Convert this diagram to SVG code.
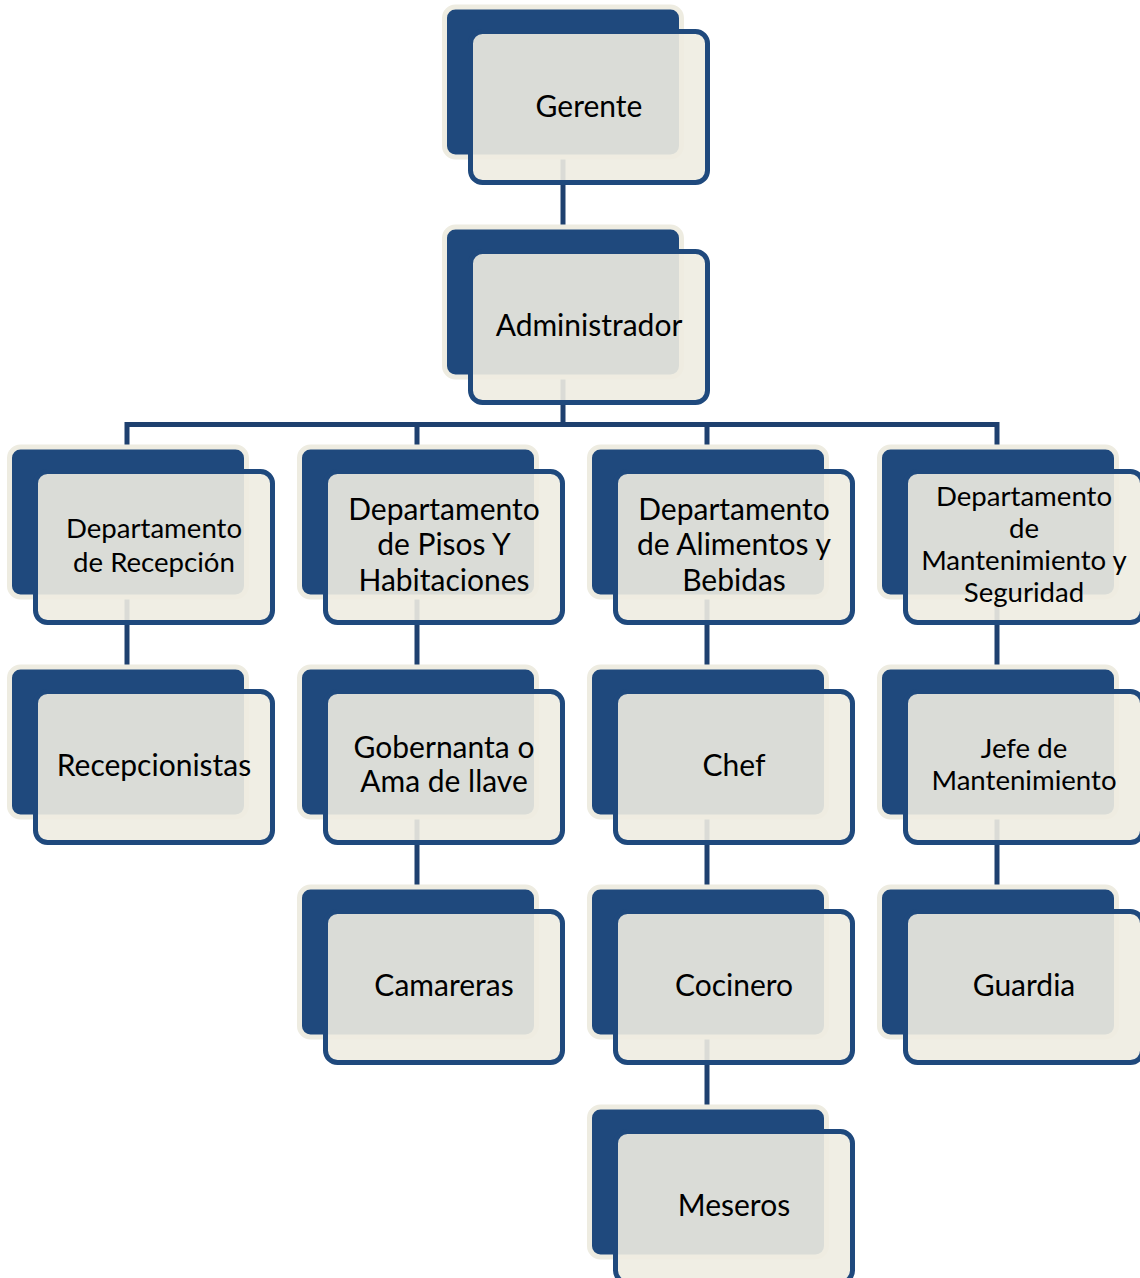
<svg xmlns="http://www.w3.org/2000/svg" width="1140" height="1278" viewBox="0 0 1140 1278">
<defs>
<style>
.back{fill:#1f497d;stroke:#eeece1;stroke-width:5}
.front{fill:#eeece1;fill-opacity:0.9;stroke:#1f497d;stroke-width:5}
.conn{stroke:#1e406f;stroke-width:5;fill:none}
.t{font-family:Lato,"Liberation Sans",sans-serif;fill:#000;text-anchor:middle}
.b{font-size:30px}
.s{font-size:27.6px}
</style>
</defs>
<rect width="1140" height="1278" fill="#ffffff"/>
<g id="connectors">
<path class="conn" d="M563 157V227"/>
<path class="conn" d="M563 377V424.5M127 424.5H997M127 422V447M417 422V447M707 422V447M997 422V447"/>
<path class="conn" d="M127 597V667"/>
<path class="conn" d="M417 597V667M417 817V887"/>
<path class="conn" d="M707 597V667M707 817V887M707 1037V1107"/>
<path class="conn" d="M997 597V667M997 817V887"/>
</g>
<g id="gerente">
<rect class="back" x="444.5" y="7" width="237" height="150" rx="11"/>
<rect class="front" x="470.5" y="31.5" width="237" height="151" rx="12"/>
<text class="t b" x="589" y="116.5">Gerente</text>
</g>
<g id="administrador">
<rect class="back" x="444.5" y="227" width="237" height="150" rx="11"/>
<rect class="front" x="470.5" y="251.5" width="237" height="151" rx="12"/>
<text class="t b" x="589" y="336">Administrador</text>
</g>
<g id="dep-recepcion">
<rect class="back" x="9.5" y="447" width="237" height="150" rx="11"/>
<rect class="front" x="35.5" y="471.5" width="237" height="151" rx="12"/>
<text class="t s" x="154" y="537.7">Departamento</text>
<text class="t s" x="154" y="572.3">de Recepción</text>
</g>
<g id="dep-pisos">
<rect class="back" x="299.5" y="447" width="237" height="150" rx="11"/>
<rect class="front" x="325.5" y="471.5" width="237" height="151" rx="12"/>
<text class="t b" x="444" y="519.5">Departamento</text>
<text class="t b" x="444" y="555">de Pisos Y</text>
<text class="t b" x="444" y="590.5">Habitaciones</text>
</g>
<g id="dep-alimentos">
<rect class="back" x="589.5" y="447" width="237" height="150" rx="11"/>
<rect class="front" x="615.5" y="471.5" width="237" height="151" rx="12"/>
<text class="t b" x="734" y="519.5">Departamento</text>
<text class="t b" x="734" y="555">de Alimentos y</text>
<text class="t b" x="734" y="590.5">Bebidas</text>
</g>
<g id="dep-mantenimiento">
<rect class="back" x="879.5" y="447" width="237" height="150" rx="11"/>
<rect class="front" x="905.5" y="471.5" width="237" height="151" rx="12"/>
<text class="t s" x="1024" y="506">Departamento</text>
<text class="t s" x="1024" y="538">de</text>
<text class="t s" x="1024" y="570">Mantenimiento y</text>
<text class="t s" x="1024" y="602">Seguridad</text>
</g>
<g id="recepcionistas">
<rect class="back" x="9.5" y="667" width="237" height="150" rx="11"/>
<rect class="front" x="35.5" y="691.5" width="237" height="151" rx="12"/>
<text class="t b" x="154" y="775.5">Recepcionistas</text>
</g>
<g id="gobernanta">
<rect class="back" x="299.5" y="667" width="237" height="150" rx="11"/>
<rect class="front" x="325.5" y="691.5" width="237" height="151" rx="12"/>
<text class="t b" x="444" y="758">Gobernanta o</text>
<text class="t b" x="444" y="792">Ama de llave</text>
</g>
<g id="chef">
<rect class="back" x="589.5" y="667" width="237" height="150" rx="11"/>
<rect class="front" x="615.5" y="691.5" width="237" height="151" rx="12"/>
<text class="t b" x="734" y="776">Chef</text>
</g>
<g id="jefe-mantenimiento">
<rect class="back" x="879.5" y="667" width="237" height="150" rx="11"/>
<rect class="front" x="905.5" y="691.5" width="237" height="151" rx="12"/>
<text class="t s" x="1024" y="758.3">Jefe de</text>
<text class="t s" x="1024" y="790">Mantenimiento</text>
</g>
<g id="camareras">
<rect class="back" x="299.5" y="887" width="237" height="150" rx="11"/>
<rect class="front" x="325.5" y="911.5" width="237" height="151" rx="12"/>
<text class="t b" x="444" y="996">Camareras</text>
</g>
<g id="cocinero">
<rect class="back" x="589.5" y="887" width="237" height="150" rx="11"/>
<rect class="front" x="615.5" y="911.5" width="237" height="151" rx="12"/>
<text class="t b" x="734" y="996">Cocinero</text>
</g>
<g id="guardia">
<rect class="back" x="879.5" y="887" width="237" height="150" rx="11"/>
<rect class="front" x="905.5" y="911.5" width="237" height="151" rx="12"/>
<text class="t b" x="1024" y="996">Guardia</text>
</g>
<g id="meseros">
<rect class="back" x="589.5" y="1107" width="237" height="150" rx="11"/>
<rect class="front" x="615.5" y="1131.5" width="237" height="151" rx="12"/>
<text class="t b" x="734" y="1216">Meseros</text>
</g>
</svg>
